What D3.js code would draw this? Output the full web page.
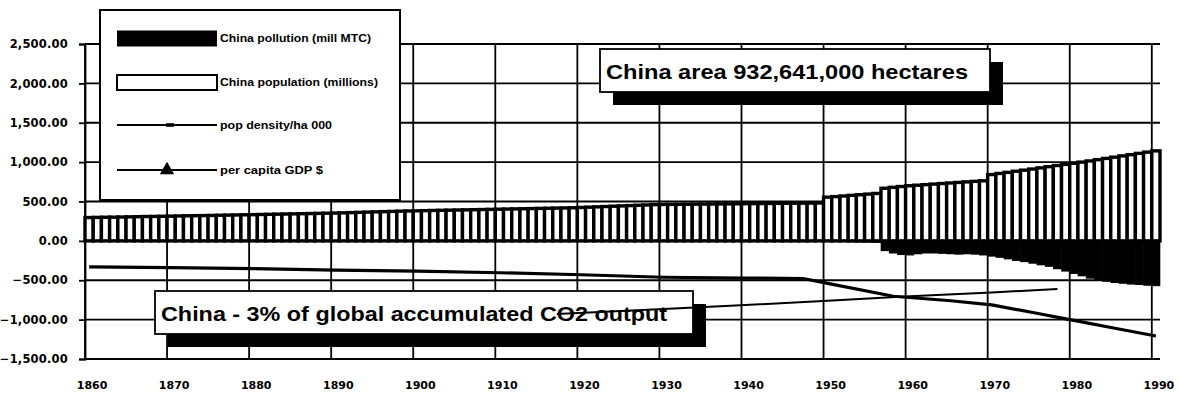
<!DOCTYPE html>
<html>
<head>
<meta charset="utf-8">
<script src="https://cdn.jsdelivr.net/npm/d3@7"></script>
<style>
  html, body { margin: 0; padding: 0; background: #fff; }
  svg { display: block; }
</style>
</head>
<body>
<svg id="chart" width="1180" height="400"></svg>
<script>
// ---- data -------------------------------------------------------------
const years = d3.range(1860, 1991);

// China population, millions (one value per year 1860..1990)
const population = [
  296, 298, 300, 301, 303, 305, 307, 309, 310, 312,
  314, 316, 318, 320, 321, 323, 325, 327, 329, 331,
  333, 335, 337, 339, 341, 343, 345, 347, 349, 351,
  353, 356, 359, 362, 365, 368, 371, 374, 377, 380,
  382, 384, 386, 388, 390, 392, 394, 396, 398, 400,
  402, 404, 406, 408, 410, 412, 414, 416, 418, 420,
  424, 428, 432, 436, 440, 444, 448, 452, 456, 460,
  462, 463, 464, 465, 466, 467, 468, 469, 470, 471,
  472, 473, 474, 475, 476, 477, 478, 479, 480, 481,
  555, 562, 570, 578, 586, 594, 602, 668, 680, 690,
  700, 707, 714, 721, 728, 735, 742, 749, 756, 763,
  842, 856, 870, 884, 898, 912, 927, 942, 957, 971,
  985, 1000, 1015, 1031, 1047, 1063, 1079, 1095, 1111, 1127,
  1143
];

// China pollution, million metric tons of carbon (plotted below the axis)
const pollutionYears = d3.range(1950, 1991);
const pollution = [
  -10, -12, -15, -18, -20, -22, -25, -130, -160, -180,
  -185, -170, -160, -160, -165, -170, -175, -170, -175, -185,
  -200, -215, -235, -255, -270, -290, -310, -330, -360, -390,
  -420, -450, -480, -500, -520, -535, -545, -555, -560, -570,
  -575
];

// population density per hectare (x1000), plotted below the axis
const densityYears  = [1860, 1870, 1880, 1890, 1900, 1910, 1920, 1930, 1940, 1947, 1950, 1958, 1965, 1970, 1975, 1980, 1985, 1990];
const densityValues = [-330, -340, -352, -372, -385, -405, -430, -462, -472, -478, -540, -703, -760, -812, -910, -1010, -1110, -1208];

// per capita GDP, $ (plotted below the axis)
const gdpYears  = [1917, 1930, 1940, 1950, 1960, 1970, 1978];
const gdpValues = [-930, -866, -815, -760, -702, -655, -612];

const yTicks = [2500, 2000, 1500, 1000, 500, 0, -500, -1000, -1500];
const xTickYears = d3.range(1860, 1991, 10);

const legendItems = [
  { label: "China pollution (mill MTC)", kind: "solid" },
  { label: "China population (millions)", kind: "open" },
  { label: "pop density/ha 000", kind: "dash" },
  { label: "per capita GDP $", kind: "triangle" }
];

const notes = [
  { text: "China area 932,641,000 hectares", x0: 600, y0: 49, w: 390, h: 43, tx: 606, ty: 79, tw: 362 },
  { text: "China - 3% of global accumulated CO2 output", x0: 155, y0: 291, w: 538, h: 43, tx: 161, ty: 321, tw: 506 }
];

// ---- layout -----------------------------------------------------------
const plotLeft = 85, plotRight = 1160, plotTop = 44, plotBottom = 359;
const ink = "#000";
const svg = d3.select("#chart");

const x = d3.scaleBand().domain(years).range([plotLeft, plotRight]).padding(0);
const y = d3.scaleLinear().domain([-1500, 2500]).range([plotBottom, plotTop]);
const bw = x.bandwidth();
const cx = yr => x(yr) + bw / 2;

// ---- grid -------------------------------------------------------------
const grid = svg.append("g");
grid.selectAll("line.h").data(yTicks).join("line")
  .attr("class", "h")
  .attr("x1", plotLeft).attr("x2", plotRight)
  .attr("y1", d => y(d)).attr("y2", d => y(d))
  .attr("stroke", ink).attr("stroke-width", 1.8);

grid.selectAll("line.v").data(xTickYears).join("line")
  .attr("class", "v")
  .attr("x1", d => x(d)).attr("x2", d => x(d))
  .attr("y1", y(2500)).attr("y2", y(-1500))
  .attr("stroke", ink).attr("stroke-width", 1.8);

// ---- axes -------------------------------------------------------------
const yAxis = svg.append("g")
  .attr("transform", `translate(${plotLeft},0)`)
  .call(d3.axisLeft(y).tickValues(yTicks).tickFormat(d3.format(",.2f")).tickSize(6).tickPadding(11));
yAxis.select(".domain").attr("stroke", ink).attr("stroke-width", 1.8);
yAxis.selectAll(".tick line").attr("stroke", ink).attr("stroke-width", 1.8);
yAxis.selectAll("text")
  .attr("fill", ink)
  .style("font-family", "'DejaVu Sans', sans-serif")
  .style("font-weight", "bold")
  .style("font-size", "11.5px")
  .style("letter-spacing", "0.2px");

const xAxis = svg.append("g")
  .attr("transform", `translate(0,${plotBottom})`)
  .call(d3.axisBottom(x).tickValues(xTickYears).tickSize(0).tickPadding(22));
xAxis.select(".domain").remove();
xAxis.selectAll("text")
  .attr("fill", ink)
  .attr("dx", 3)
  .style("font-family", "'DejaVu Sans', sans-serif")
  .style("font-weight", "bold")
  .style("font-size", "11px");

// ---- bars -------------------------------------------------------------
const popData = years.map((yr, i) => ({ year: yr, v: population[i] }));
svg.append("g").selectAll("rect").data(popData).join("rect")
  .attr("x", d => x(d.year))
  .attr("width", bw)
  .attr("y", d => y(d.v))
  .attr("height", d => y(0) - y(d.v))
  .attr("fill", "#fff")
  .attr("stroke", ink)
  .attr("stroke-width", 3.4);

const polData = pollutionYears.map((yr, i) => ({ year: yr, v: pollution[i] }));
svg.append("g").selectAll("rect").data(polData).join("rect")
  .attr("x", d => x(d.year) - 0.3)
  .attr("width", bw + 0.6)
  .attr("y", y(0))
  .attr("height", d => y(d.v) - y(0))
  .attr("fill", ink);

// ---- density line -----------------------------------------------------
const line = d3.line().x(d => cx(d.year)).y(d => y(d.v));
const densityData = densityYears.map((yr, i) => ({ year: yr, v: densityValues[i] }));
svg.append("path").datum(densityData)
  .attr("d", line)
  .attr("fill", "none").attr("stroke", ink).attr("stroke-width", 3.2)
  .attr("stroke-linejoin", "round");

// ---- annotation boxes -------------------------------------------------
const noteG = svg.append("g").selectAll("g").data(notes).join("g");
noteG.append("rect")
  .attr("x", d => d.x0 + 13).attr("y", d => d.y0 + 13)
  .attr("width", d => d.w).attr("height", d => d.h)
  .attr("fill", ink);
noteG.append("rect")
  .attr("x", d => d.x0).attr("y", d => d.y0)
  .attr("width", d => d.w).attr("height", d => d.h)
  .attr("fill", "#fff").attr("stroke", ink).attr("stroke-width", 1.8);
noteG.append("text")
  .attr("x", d => d.tx).attr("y", d => d.ty)
  .attr("textLength", d => d.tw)
  .attr("lengthAdjust", "spacingAndGlyphs")
  .attr("fill", ink)
  .style("font-family", "'Liberation Sans', Arial, sans-serif")
  .style("font-weight", "bold")
  .style("font-size", "21px")
  .text(d => d.text);

// ---- GDP line ---------------------------------------------------------
const gdpData = gdpYears.map((yr, i) => ({ year: yr, v: gdpValues[i] }));
svg.append("path").datum(gdpData)
  .attr("d", line)
  .attr("fill", "none").attr("stroke", ink).attr("stroke-width", 2);

// ---- legend -----------------------------------------------------------
const legend = svg.append("g");
legend.append("rect")
  .attr("x", 100).attr("y", 10).attr("width", 300).attr("height", 190)
  .attr("fill", "#fff").attr("stroke", ink).attr("stroke-width", 2);

const rowY = [38.5, 82.5, 125, 170];
const textW = [151, 158, 112, 103];
const row = legend.selectAll("g.row").data(legendItems).join("g")
  .attr("class", "row")
  .attr("transform", (d, i) => `translate(0,${rowY[i]})`);

row.filter(d => d.kind === "solid").append("rect")
  .attr("x", 117).attr("y", -8).attr("width", 100).attr("height", 16).attr("fill", ink);
row.filter(d => d.kind === "open").append("rect")
  .attr("x", 117).attr("y", -7.5).attr("width", 100).attr("height", 15)
  .attr("fill", "#fff").attr("stroke", ink).attr("stroke-width", 2);
row.filter(d => d.kind === "dash" || d.kind === "triangle").append("line")
  .attr("x1", 117).attr("x2", 217).attr("y1", 0).attr("y2", 0)
  .attr("stroke", ink).attr("stroke-width", 2);
row.filter(d => d.kind === "dash").append("rect")
  .attr("x", 166).attr("y", -1.8).attr("width", 8).attr("height", 3.6).attr("fill", ink);
row.filter(d => d.kind === "triangle").append("path")
  .attr("d", d3.symbol(d3.symbolTriangle, 90)())
  .attr("transform", "translate(167,0)")
  .attr("fill", ink);

row.append("text")
  .attr("x", 220).attr("y", 3.5)
  .attr("textLength", (d, i) => textW[i])
  .attr("lengthAdjust", "spacingAndGlyphs")
  .attr("fill", ink)
  .style("font-family", "'Liberation Sans', Arial, sans-serif")
  .style("font-weight", "bold")
  .style("font-size", "10px")
  .text(d => d.label);
</script>
</body>
</html>
